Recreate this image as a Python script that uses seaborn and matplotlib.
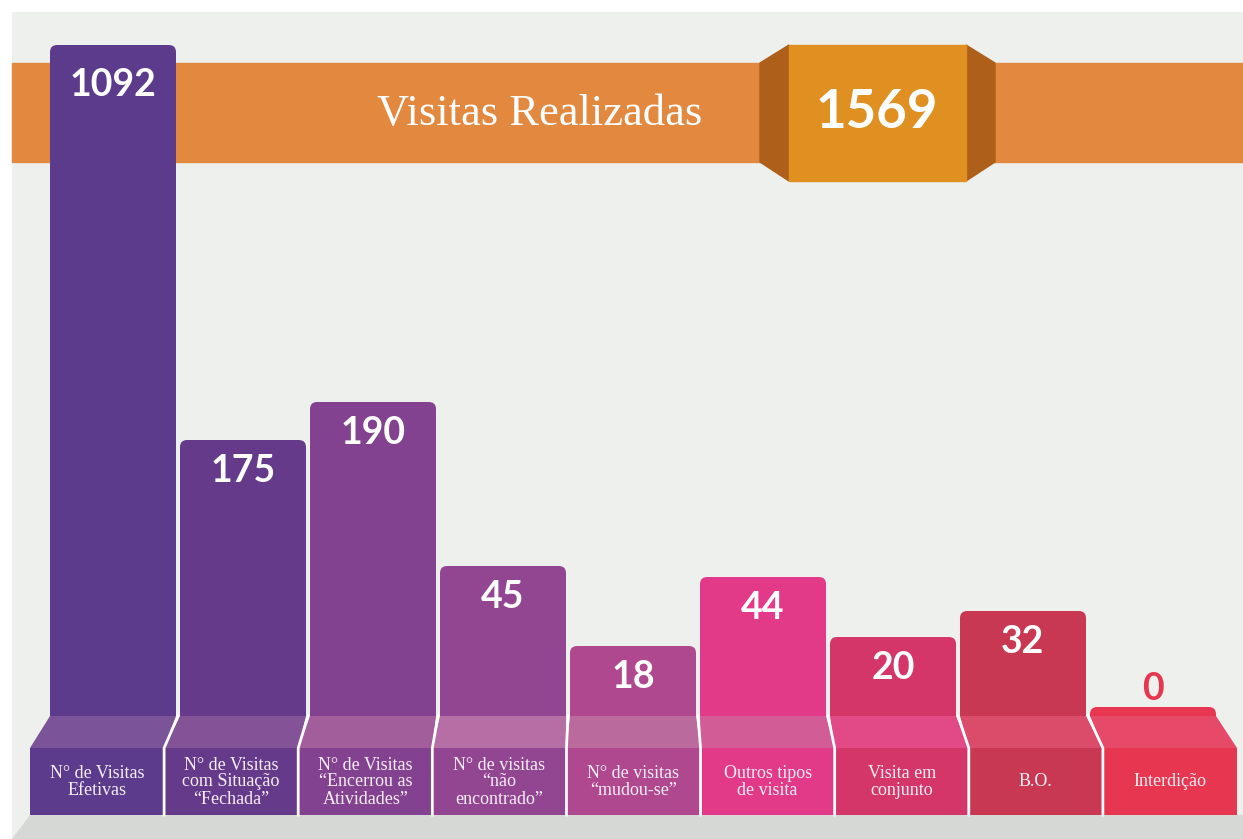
import numpy as np
import matplotlib
matplotlib.use("Agg")
import matplotlib.pyplot as plt
from matplotlib.patches import FancyBboxPatch, Polygon, Rectangle
import seaborn as sns

# ── dados ────────────────────────────────────────────────────────────────
categories = [
    "N° de Visitas\nEfetivas",
    "N° de Visitas\ncom Situação\n“Fechada”",
    "N° de Visitas\n“Encerrou as\nAtividades”",
    "N° de visitas\n“não\nencontrado”",
    "N° de visitas\n“mudou-se”",
    "Outros tipos\nde visita",
    "Visita em\nconjunto",
    "B.O.",
    "Interdição",
]
values = [1092, 175, 190, 45, 18, 44, 20, 32, 0]
# altura visual das barras (infografico, nao proporcional)
bar_heights = [671, 276, 314, 150, 70, 139, 79, 105, 9]
title = "Visitas Realizadas"
total = 1569

bar_colors = ["#5c3b8c", "#653a8a", "#83428f", "#924591", "#b0488f",
              "#e23a88", "#d4366a", "#c93852", "#e63650"]
band_colors = ["#7a5398", "#845397", "#a25e9a", "#b66fa5", "#bb6a9e",
               "#d25c96", "#e24a86", "#da4c6a", "#e64a68"]

W, H = 1243, 839
fig = plt.figure(figsize=(W / 100, H / 100), dpi=100)
fig.patch.set_facecolor("white")

# ── fundo: painel, faixa laranja e selo ──────────────────────────────────
ax_bg = fig.add_axes([0, 0, 1, 1], zorder=0)
ax_bg.set_xlim(0, W)
ax_bg.set_ylim(H, 0)
ax_bg.axis("off")
ax_bg.add_patch(Rectangle((12, 12), W - 12, H - 12, color="#eef0ed"))
ax_bg.add_patch(Rectangle((12, 63), W - 12, 99, color="#e3883f"))
ax_bg.add_patch(Polygon([(760, 63), (789, 45), (789, 181), (760, 162)], color="#ae5f1a"))
ax_bg.add_patch(Polygon([(966, 45), (995, 63), (995, 162), (966, 181)], color="#ae5f1a"))
ax_bg.add_patch(Rectangle((789, 45), 177, 136, color="#e09020"))
ax_bg.text(540, 114, title, color="white", fontsize=32, family="Liberation Serif",
           ha="center", va="center")
ax_bg.text(877, 113, str(total), color="white", fontsize=38, family="Lato",
           fontweight="bold", ha="center", va="center")

# ── barras ──────────────────────────────────────────────────────────────
ax = fig.add_axes([48 / W, (H - 716) / H, 1170 / W, 716 / H], zorder=1)
ax.patch.set_alpha(0)
sns.barplot(x=list(range(len(values))), y=bar_heights, hue=list(range(len(values))),
            palette=bar_colors, saturation=1, width=126 / 130, legend=False, ax=ax)
ax.set_xlim(-0.5, len(values) - 0.5)
ax.set_ylim(0, 716)
ax.axis("off")

for p in list(ax.patches):
    x, w, h = p.get_x(), p.get_width(), p.get_height()
    i = int(round(x + w / 2))
    ax.add_patch(FancyBboxPatch((x, -12), w, h + 12,
                                boxstyle="round,pad=0,rounding_size=0.055",
                                mutation_aspect=130, fc=p.get_facecolor(), ec="none"))
    p.remove()
    if values[i] == 0:
        ax.text(x + w / 2, h + 18, str(values[i]), color=bar_colors[i], fontsize=27,
                family="Lato", fontweight="bold", ha="center", va="center")
    else:
        ax.text(x + w / 2, h - (40 if h > 400 else 31), str(values[i]), color="white",
                fontsize=27, family="Lato", fontweight="bold", ha="center", va="center")

# ── base: faixa inclinada, caixas de rotulo e chao ───────────────────────
ax_fg = fig.add_axes([0, 0, 1, 1], zorder=2)
ax_fg.set_xlim(0, W)
ax_fg.set_ylim(H, 0)
ax_fg.axis("off")
ax_fg.patch.set_alpha(0)

ax_fg.add_patch(Polygon([(30, 815), (W, 815), (W, H), (12, H)], color="#d6d8d5"))

n = len(values)
box_w = (1237 - 30) / n
for i, lab in enumerate(categories):
    bx0 = 30 + i * box_w
    bx1 = bx0 + box_w
    tx0 = 48 + i * 130 + 2
    tx1 = tx0 + 126
    ax_fg.add_patch(Polygon([(tx0, 716), (tx1, 716), (bx1, 748), (bx0, 748)],
                            fc=band_colors[i], ec="none"))
    ax_fg.add_patch(Rectangle((bx0, 748), box_w, 67, fc=bar_colors[i], ec="none"))
    ax_fg.text((bx0 + bx1) / 2, 782, lab, color="#f6eef4", fontsize=13,
               family="Liberation Serif", ha="center", va="center", linespacing=1.0)

# separadores brancos entre as colunas
for i in range(1, n):
    gx = 48 + i * 130
    bx = 30 + i * box_w
    ax_fg.plot([gx, bx, bx], [716, 748, 815], color="white", lw=2,
               solid_joinstyle="miter")

fig.savefig("out.png", dpi=100)
